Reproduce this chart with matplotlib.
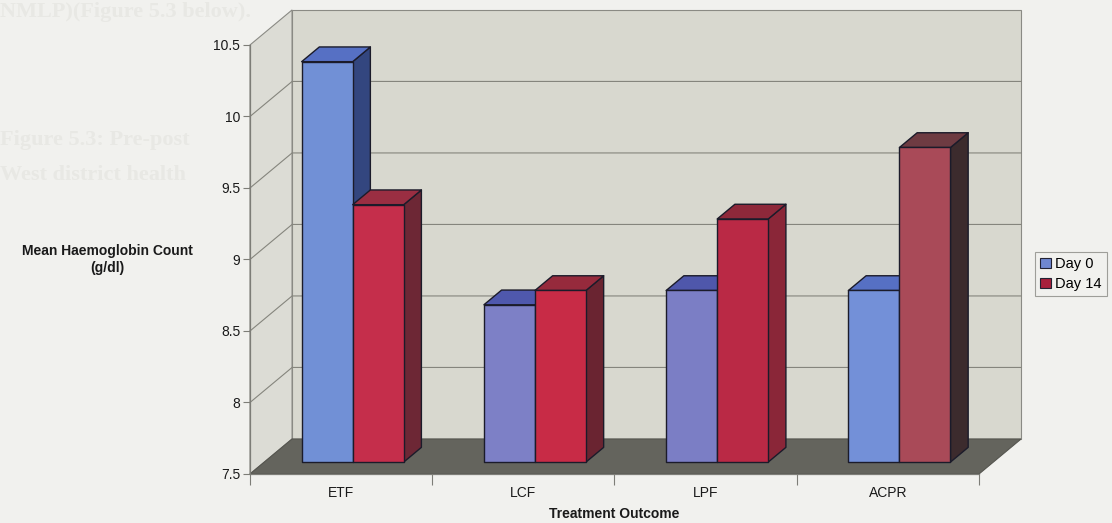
import matplotlib.pyplot as plt
from matplotlib.patches import Polygon, Patch
from matplotlib.ticker import FormatStrFormatter
import numpy as np

plt.rcParams['font.family'] = ['Liberation Sans', 'DejaVu Sans']

# data
outcomes = ['ETF', 'LCF', 'LPF', 'ACPR']
day0 = [10.3, 8.6, 8.7, 8.7]
day14 = [9.3, 8.7, 9.2, 9.7]
series_names = ['Day 0', 'Day 14']

ymin, ymax = 7.5, 10.5
yticks = np.arange(7.5, 10.51, 0.5)

# face colours per bar (front, top, side)
blue_front = ['#7190d6', '#7d80c6', '#7b7ec5', '#7390d8']
blue_top = ['#5670c4', '#4f58ad', '#4f57ab', '#5670c4']
blue_side = ['#33467f', '#2e3570', '#2e3570', '#33467f']
red_front = ['#c52e4b', '#c82b46', '#ba2945', '#a94a58']
red_top = ['#9a2e42', '#962a3c', '#8e283a', '#6e3b42']
red_side = ['#6d2735', '#6a2431', '#8a2638', '#3c2b2d']

# oblique depth shift (data units for the full depth of the plot box)
DX, DY = 0.231, 0.245


def proj(x, y, d):
    return (x + d * DX, y + d * DY)


fig = plt.figure(figsize=(11.12, 5.23), dpi=100)
fig.patch.set_facecolor('#f1f1ee')

# faint show-through of the printed page behind
for ty, txt in [(0.978, 'NMLP)(Figure 5.3 below).'),
                (0.733, 'Figure 5.3: Pre-post'),
                (0.665, 'West district health')]:
    fig.text(0.0, ty, txt, color='#e8e8e4', fontsize=16, weight='bold',
             family='Liberation Serif', va='center', ha='left', zorder=-1)

ax = fig.add_axes([0.2248, 0.0937, 0.6556, 0.8203])
ax.set_xlim(0, len(outcomes))
ax.set_ylim(ymin, ymax)
ax.patch.set_visible(False)

n = len(outcomes)
wall_edge = '#8a8a84'

# side wall, back wall, floor
side = [proj(0, ymin, 0), proj(0, ymax, 0), proj(0, ymax, 1), proj(0, ymin, 1)]
back = [proj(0, ymin, 1), proj(n, ymin, 1), proj(n, ymax, 1), proj(0, ymax, 1)]
floor = [proj(0, ymin, 0), proj(n, ymin, 0), proj(n, ymin, 1), proj(0, ymin, 1)]
ax.add_patch(Polygon(side, closed=True, fc='#dcdcd5', ec=wall_edge, lw=0.8,
                     clip_on=False, zorder=1))
ax.add_patch(Polygon(back, closed=True, fc='#d8d8cf', ec=wall_edge, lw=0.8,
                     clip_on=False, zorder=1))
ax.add_patch(Polygon(floor, closed=True, fc='#64645d', ec='#55554f', lw=0.8,
                     clip_on=False, zorder=1))

# gridlines on the walls
for v in yticks[1:-1]:
    p0, p1, p2 = proj(0, v, 0), proj(0, v, 1), proj(n, v, 1)
    ax.plot([p0[0], p1[0], p2[0]], [p0[1], p1[1], p2[1]], color='#85857d',
            lw=0.8, clip_on=False, zorder=2)

# 3d columns
bar_w = 0.28
d0, d1 = 0.34, 0.76
edge = '#1b1b2a'
for i in range(n):
    for j, vals in enumerate([day0, day14]):
        v = vals[i]
        x0 = i + 0.205 + j * bar_w
        x1 = x0 + bar_w
        if j == 0:
            cf, ct, cs = blue_front[i], blue_top[i], blue_side[i]
        else:
            cf, ct, cs = red_front[i], red_top[i], red_side[i]
        side_face = [proj(x1, ymin, d0), proj(x1, ymin, d1), proj(x1, v, d1), proj(x1, v, d0)]
        top_face = [proj(x0, v, d0), proj(x1, v, d0), proj(x1, v, d1), proj(x0, v, d1)]
        front_face = [proj(x0, ymin, d0), proj(x1, ymin, d0), proj(x1, v, d0), proj(x0, v, d0)]
        z = 3 + i * 2 + j
        for pts, c in [(side_face, cs), (top_face, ct), (front_face, cf)]:
            ax.add_patch(Polygon(pts, closed=True, fc=c, ec=edge, lw=1.0,
                                 joinstyle='round', clip_on=False, zorder=z))

# axes, ticks and labels
for s in ['top', 'right']:
    ax.spines[s].set_visible(False)
for s in ['left', 'bottom']:
    ax.spines[s].set_color('#7d7d77')
    ax.spines[s].set_linewidth(0.9)
    ax.spines[s].set_zorder(20)

ax.set_yticks(yticks)
ax.yaxis.set_major_formatter(FormatStrFormatter('%g'))
ax.tick_params(axis='y', direction='out', length=5, width=0.8, color='#7d7d77',
               labelsize=10, labelcolor='#1a1a1a', pad=2)

ax.set_xticks(np.arange(n) + 0.5)
ax.set_xticklabels(outcomes)
ax.set_xticks(np.arange(n + 1), minor=True)
ax.tick_params(axis='x', which='major', length=0, labelsize=10,
               labelcolor='#1a1a1a', pad=9)
ax.tick_params(axis='x', which='minor', direction='out', length=8, width=0.8,
               color='#7d7d77')

ax.set_xlabel('Treatment Outcome', fontsize=10, weight='bold', color='#1a1a1a',
              labelpad=5)
ax.set_ylabel('Mean Haemoglobin Count\n(g/dl)', fontsize=10, weight='bold',
              color='#1a1a1a', rotation=0, ha='center', va='center')
ax.yaxis.set_label_coords(-0.196, 0.5)

handles = [Patch(fc='#6f87d0', ec='#222233', lw=0.8),
           Patch(fc='#a8203c', ec='#222233', lw=0.8)]
leg = fig.legend(handles, series_names, loc='center left',
                 bbox_to_anchor=(0.931, 0.476), fontsize=10.5, frameon=True,
                 fancybox=False, edgecolor='#8a8a84', facecolor='#f1f1ee',
                 handlelength=0.7, handleheight=0.7, handletextpad=0.3,
                 borderpad=0.35, labelspacing=0.4, borderaxespad=0)
leg.get_frame().set_linewidth(0.8)

fig.savefig('out.png', dpi=100, facecolor=fig.get_facecolor())
